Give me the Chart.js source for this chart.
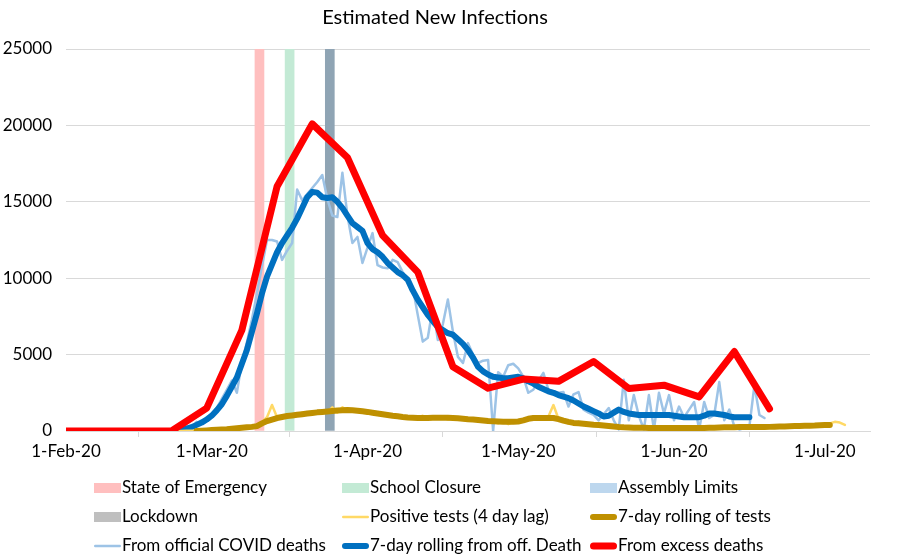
<!DOCTYPE html>
<html>
<head>
<meta charset="utf-8">
<title>Estimated New Infections</title>
<script src="https://cdn.jsdelivr.net/npm/chart.js@4.4.1/dist/chart.umd.min.js"></script>
<style>
  html, body { margin: 0; padding: 0; background: #fff; }
  #wrap { width: 920px; height: 557px; }
</style>
</head>
<body>
<div id="wrap"><canvas id="infeksiChart" width="920" height="557"></canvas></div>
<script>
// sumbu x: hari sejak 1-Feb-20
const tickDays = [0, 29, 60, 90, 121, 151];
const tickLabels = ["1-Feb-20", "1-Mar-20", "1-Apr-20", "1-May-20", "1-Jun-20", "1-Jul-20"];

// tanggal kebijakan (hari sejak 1-Feb-20)
const emergencyDays = [38.5];
const schoolDays = [44.5];
const assemblyDays = [];
const lockdownDays = [52.5];
const policyHeight = 25000;

// kematian berlebih (mingguan)
const excessDays = [0, 7, 14, 21, 28, 35, 42, 49, 56, 63, 70, 77, 84, 91, 98, 105, 112, 119, 126, 133, 140];
const excessDeaths = [0, 0, 0, 0, 1500, 6600, 16000, 20100, 17900, 12800, 10400, 4200, 2800, 3400, 3250, 4550, 2780, 3000, 2230, 5200, 1450];

// kematian COVID resmi (harian, mulai hari ke-22)
const officialStart = 22;
const officialDeaths = [
  0, 100, 300, 200, 600, 500, 900, 1100, 1500, 2100,
  2700, 3300, 2500, 4500, 5800, 7300, 9000, 10800, 12500, 12500,
  12400, 11200, 11800, 12300, 15800, 15100, 15500, 15900, 16300, 16750,
  15200, 14100, 14000, 16900, 14100, 12300, 12700, 11000, 12000, 12950,
  10850, 10700, 10650, 11200, 11050, 10400, 9800, 9400, 7600, 5850,
  6100, 8100, 5950, 7000, 8600, 6500, 4850, 4450, 5750, 5000,
  4450, 4600, 4650, 0, 3850, 3550, 4300, 4400, 4100, 3550,
  2500, 2700, 3300, 3800, 2700, 2600, 2500, 2550, 1600, 2400,
  2550, 1400, 1200, 1050, 700, 1100, 1500, 700, 100, 3350,
  700, 2350, 1000, 100, 2350, 100, 2500, 1150, 2350, 700,
  1600, 900, 1400, 1900, 100, 1900, 850, 1050, 3200, 700,
  1400, 300, 100, 200, 300, 3000, 1050, 850
];

// rata-rata 7 hari dari kematian resmi (mulai hari ke-20)
const rollingStart = 20;
const rollingDeaths = [
  0, 0, 0, 50, 150, 250, 400, 550, 750, 1000,
  1350, 1750, 2300, 2900, 3500, 4400, 5300, 6500, 7700, 9000,
  10100, 10900, 11700, 12300, 12800, 13300, 13900, 14600, 15300, 15650,
  15600, 15300, 15250, 15300, 15000, 14600, 14100, 13600, 13350, 13100,
  12300, 11900, 11700, 11400, 11000, 10700, 10400, 10200, 9900, 9200,
  8600, 8100, 7600, 7200, 6800, 6600, 6400, 6300, 6000, 5700,
  5300, 4800, 4200, 3900, 3700, 3550, 3500, 3450, 3450, 3500,
  3550, 3450, 3250, 3100, 2900, 2750, 2600, 2500, 2350, 2250,
  2150, 2000, 1800, 1600, 1450, 1300, 1150, 950, 1000, 1200,
  1400, 1250, 1150, 1100, 1050, 1050, 1050, 1050, 1050, 1050,
  1050, 1000, 950, 900, 900, 900, 900, 1000, 1150, 1150,
  1100, 1050, 950, 900, 900, 900, 900
];

// tes positif, lag 4 hari (mulai hari ke-22)
const testStart = 22;
const positiveTests = [
  0, 0, 10, 20, 30, 40, 60, 80, 100, 130,
  160, 190, 220, 250, 280, 330, 380, 600, 900, 1700,
  900, 1000, 900, 1100, 1000, 1200, 1100, 1200, 1250, 1300,
  1200, 1550, 1200, 1550, 1350, 1300, 1400, 1250, 1200, 1150,
  1200, 1050, 1100, 950, 900, 1000, 800, 900, 850, 1000,
  800, 850, 900, 900, 750, 900, 800, 750, 800, 700,
  750, 600, 700, 600, 500, 700, 450, 600, 700, 650,
  900, 850, 800, 950, 950, 1700, 800, 700, 500, 450,
  600, 400, 450, 350, 450, 300, 350, 250, 300, 200,
  300, 200, 250, 150, 250, 200, 250, 150, 250, 200,
  200, 250, 150, 250, 200, 200, 250, 200, 250, 200,
  250, 200, 300, 250, 300, 250, 300, 300, 300, 350,
  300, 350, 350, 400, 350, 400, 400, 450, 400, 450,
  500, 600, 550, 400
];

// rata-rata 7 hari dari tes (mulai hari ke-26)
const testRollingStart = 26;
const testRolling = [
  0, 20, 40, 60, 80, 100, 120, 150, 180, 210,
  240, 270, 320, 500, 650, 750, 850, 920, 980, 1020,
  1060, 1100, 1140, 1180, 1220, 1250, 1280, 1310, 1340, 1360,
  1370, 1360, 1330, 1290, 1250, 1200, 1150, 1100, 1050, 1000,
  960, 920, 890, 870, 850, 850, 850, 860, 870, 870,
  860, 850, 830, 800, 770, 750, 720, 690, 660, 640,
  620, 600, 600, 600, 620, 700, 800, 850, 850, 850,
  850, 850, 780, 680, 600, 530, 500, 470, 440, 410,
  390, 360, 330, 290, 260, 240, 230, 220, 210, 210,
  200, 200, 200, 200, 200, 200, 200, 200, 200, 200,
  200, 200, 210, 220, 230, 240, 250, 250, 260, 260,
  260, 260, 260, 260, 270, 280, 290, 300, 310, 320,
  330, 340, 350, 360, 380, 390, 400
];

// bikin pasangan {x, y} dari deret harian
function series(start, values) {
  return values.map((v, i) => ({ x: start + i, y: v }));
}
function bars(days) {
  return days.map((d) => ({ x: d, y: policyHeight }));
}

const fontName = "Lato, 'Open Sans', sans-serif";

// legenda 3 kolom ala Excel
const gridLegend = {
  id: "gridLegend",
  afterDraw(chart) {
    const ctx = chart.ctx;
    const colsBox = [94, 342, 590];
    const rowsY = [488, 517, 546];
    ctx.save();
    ctx.font = "17px " + fontName;
    ctx.textBaseline = "middle";
    chart.data.datasets.forEach((ds, i) => {
      const x = colsBox[i % 3];
      const y = rowsY[Math.floor(i / 3)];
      if (ds.type === "bar") {
        ctx.fillStyle = ds.legendColor || ds.backgroundColor;
        ctx.fillRect(x, y - 5, 27, 10);
      } else {
        ctx.strokeStyle = ds.borderColor;
        ctx.lineWidth = ds.borderWidth;
        ctx.lineCap = "round";
        ctx.beginPath();
        ctx.moveTo(x + ds.borderWidth / 2, y);
        ctx.lineTo(x + 27 - ds.borderWidth / 2, y);
        ctx.stroke();
      }
      ctx.fillStyle = "#000";
      ctx.fillText(ds.label, x + 28, y);
    });
    ctx.restore();
  },
};

const lineStyle = {
  type: "line",
  pointRadius: 0,
  tension: 0,
  fill: false,
  borderCapStyle: "round",
  borderJoinStyle: "round",
};

const ctx = document.getElementById("infeksiChart").getContext("2d");

new Chart(ctx, {
  type: "line",
  data: {
    datasets: [
      { type: "bar", label: "State of Emergency", data: bars(emergencyDays), backgroundColor: "#ffbfbf", barThickness: 9, grouped: false, order: 9 },
      { type: "bar", label: "School Closure", data: bars(schoolDays), backgroundColor: "#c3ead5", barThickness: 9, grouped: false, order: 8 },
      { type: "bar", label: "Assembly Limits", data: bars(assemblyDays), backgroundColor: "#bdd7ee", barThickness: 9, grouped: false, order: 7 },
      { type: "bar", label: "Lockdown", data: bars(lockdownDays), backgroundColor: "#8fa4b4", legendColor: "#bfbfbf", barThickness: 9, grouped: false, order: 6 },
      { ...lineStyle, label: "Positive tests (4 day lag)", data: series(testStart, positiveTests), borderColor: "#ffd966", borderWidth: 2.5, order: 2 },
      { ...lineStyle, label: "7-day rolling of tests", data: series(testRollingStart, testRolling), borderColor: "#bf9000", borderWidth: 6, order: 1 },
      { ...lineStyle, label: "From official COVID deaths", data: series(officialStart, officialDeaths), borderColor: "#9dc3e6", borderWidth: 2.5, order: 4 },
      { ...lineStyle, label: "7-day rolling from off. Death", data: series(rollingStart, rollingDeaths), borderColor: "#0070c0", borderWidth: 6, order: 3 },
      { ...lineStyle, label: "From excess deaths", data: excessDays.map((d, i) => ({ x: d, y: excessDeaths[i] })), borderColor: "#ff0000", borderWidth: 7, order: 0 },
    ],
  },
  options: {
    responsive: false,
    animation: false,
    layout: { padding: { left: 0, right: 50, top: 0, bottom: 0 } },
    plugins: {
      legend: { display: false },
      tooltip: { enabled: false },
      title: {
        display: true,
        text: "Estimated New Infections",
        color: "#000",
        font: { family: fontName, size: 20, weight: "normal" },
        padding: { top: 6, bottom: 19 },
      },
    },
    scales: {
      x: {
        type: "linear",
        min: 0,
        max: 160,
        offset: false,
        afterBuildTicks: (scale) => {
          scale.ticks = tickDays.map((v) => ({ value: v }));
        },
        afterFit: (scale) => {
          scale.height = 126;
        },
        ticks: {
          color: "#000",
          font: { family: fontName, size: 17 },
          padding: 4,
          maxRotation: 0,
          autoSkip: false,
          callback: (value) => tickLabels[tickDays.indexOf(value)] || "",
        },
        grid: { drawOnChartArea: false, drawTicks: true, tickLength: 6, color: "#d9d9d9" },
        border: { display: true, color: "#d9d9d9" },
      },
      y: {
        min: 0,
        max: 25000,
        afterFit: (scale) => {
          scale.width = 66;
        },
        ticks: {
          stepSize: 5000,
          color: "#000",
          font: { family: fontName, size: 17 },
          padding: 14,
          callback: (value) => String(value),
        },
        grid: { color: "#d9d9d9", drawTicks: false },
        border: { display: false },
      },
    },
  },
  plugins: [gridLegend],
});
</script>
</body>
</html>
